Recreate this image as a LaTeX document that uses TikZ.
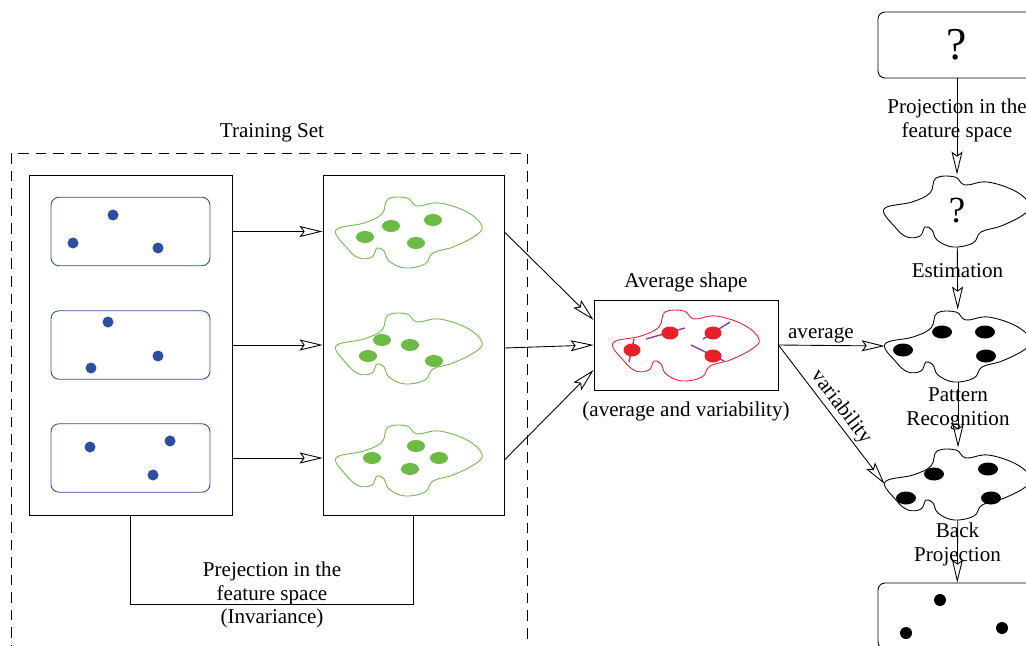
\documentclass[tikz,border=0pt]{standalone}
\usepackage{fontspec}
\setmainfont{Liberation Serif}
\usetikzlibrary{positioning, arrows.meta, calc}

\definecolor{dotblue}{HTML}{2D4FA3}
\definecolor{featgreen}{HTML}{6CBB45}
\definecolor{meanred}{HTML}{E8202A}
\definecolor{varpurple}{HTML}{8E3C97}

\tikzset{
  blob/.pic={
    \draw[#1] plot[smooth cycle, tension=0.65] coordinates {
      (-73,-2) (-45,-9) (-27,-18) (-21,-33) (-2,-34) (8,-26) (30,-29)
      (58,-20) (73,-6) (66,4) (44,15) (24,21) (16,32) (-4,36) (-20,29)
      (-25,19) (-32,16) (-37,25) (-50,26) (-62,16)};
  },
  frame/.style={draw, minimum height=6.8cm, inner sep=0},
  sample/.style={draw=dotblue, rounded corners=0.16cm, minimum width=3.18cm, minimum height=1.37cm},
  blobnode/.style={minimum width=2.92cm, minimum height=1.44cm, inner sep=0},
  qbox/.style={draw, rounded corners=0.14cm, minimum width=3.16cm, minimum height=1.32cm, inner sep=0},
  lbl/.style={align=center, inner sep=0}
}

\begin{document}
\begin{tikzpicture}[x=0.02cm, y=-0.02cm, line width=0.5pt,
    font=\fontsize{12}{13.6}\selectfont,
    >={Stealth[open, length=4.6mm, width=2.2mm, inset=0.8mm]}]
    \clip (0,0) rectangle (1026,645);

    % training set
    \draw[dash pattern=on 6pt off 4pt] (11,153) rectangle (527,700);
    \node (tstitle) at (272,133) {Training Set};

    \node[frame, minimum width=4.06cm] (set) at (130.5,345) {};
    \node[frame, minimum width=3.62cm] (feat) at (413.5,345) {};

    \foreach \n/\y in {s1/231.5, s2/345, s3/458}
        \node[sample] (\n) at (130.5,\y) {};
    \foreach \u/\v in {-17.5/-16.5, -57.5/11.5, 27.5/16.5}
        \fill[dotblue] ($(s1)+(\u,\v)$) circle [radius=5.5];
    \foreach \u/\v in {-22.5/-23, -39.5/23, 27.5/11}
        \fill[dotblue] ($(s2)+(\u,\v)$) circle [radius=5.5];
    \foreach \u/\v in {-40.5/-11, 39.5/-17, 22.5/17}
        \fill[dotblue] ($(s3)+(\u,\v)$) circle [radius=5.5];

    % features
    \foreach \n/\y in {g1/232, g2/348, g3/460} {
        \node[blobnode] (\n) at (409,\y) {};
        \pic at (\n) {blob=featgreen};
    }
    \foreach \u/\v in {-44/5, -18/-6, 24/-12, 7/11}
        \fill[featgreen] ($(g1)+(\u,\v)$) ellipse [x radius=9, y radius=6];
    \foreach \u/\v in {-27/-8, 1/-3, -41/8, 25/13}
        \fill[featgreen] ($(g2)+(\u,\v)$) ellipse [x radius=9, y radius=6];
    \foreach \u/\v in {7/-14, 30/-2, -37/-2, 1/9}
        \fill[featgreen] ($(g3)+(\u,\v)$) ellipse [x radius=9, y radius=6];

    \foreach \n in {s1, s2, s3}
        \draw[->] (\n -| set.east) -- (\n -| feat.west);

    % average shape
    \node[draw, minimum width=3.68cm, minimum height=1.8cm] (avg) at (686,345) {};
    \node (avgtitle) at (686,282) {Average shape};
    \node (avgnote) at (686,411) {(average and variability)};
    \node[blobnode] (mean) at (686,345) {};
    \pic at (mean) {blob=meanred};
    \foreach \a/\b/\c/\d in {-52/-6/-57/17, -40/-6/-1/-17, 17/-6/44/-23, 5/0/38/16}
        \draw[varpurple, line width=0.8pt] ($(mean)+(\a,\b)$) -- ($(mean)+(\c,\d)$);
    \foreach \u/\v in {-54/5, -16/-12, 27/-12, 27/11}
        \fill[meanred] ($(mean)+(\u,\v)$) ellipse [x radius=8.5, y radius=6.5];

    \draw[->] (feat.east |- g1) -- ([yshift=0.5cm]avg.west);
    \draw[->] (feat.east |- g2) -- (avg.west);
    \draw[->] (feat.east |- g3) -- ([yshift=-0.5cm]avg.west);

    \draw (set.south) -- ++(0,89) -| (feat.south);
    \node[lbl] (inv) at (272,595) {Prejection in the\\feature space\\(Invariance)};

    % recognition
    \node[qbox, font=\fontsize{26}{30}\selectfont] (query) at (957,45) {?};
    \node[blobnode, font=\fontsize{21}{25}\selectfont] (est) at (957,211) {?};
    \node[blobnode] (rec) at (958,346) {};
    \node[blobnode] (back) at (958,484) {};
    \node[qbox] (result) at (957,616) {};
    \foreach \n in {est, rec, back}
        \pic at (\n) {blob=black};
    \foreach \u/\v in {-55/4, -16/-14, 27/-14, 28/10}
        \fill ($(rec)+(\u,\v)$) ellipse [x radius=10, y radius=6.5];
    \foreach \u/\v in {-52/14, -24/-10, 30/-15, 33/14}
        \fill ($(back)+(\u,\v)$) ellipse [x radius=10, y radius=6.5];
    \foreach \u/\v in {-17/-16, -51/17, 45/12}
        \fill ($(result)+(\u,\v)$) circle [radius=6];

    \draw[->] (query) -- node[lbl, pos=0.44] {Projection in the\\feature space} (est);
    \draw[->] (est) -- node[lbl, pos=0.37] {Estimation} (rec);
    \draw[->] (rec) -- node[lbl, pos=0.4] {Pattern\\Recognition} (back);
    \draw[->] (back) -- node[lbl, pos=0.38] {Back\\Projection} (result);

    \draw[->] (avg.east) -- node[above, inner sep=1pt, pos=0.4] {average} (rec.west);
    \draw[->] (avg.east) -- node[above, sloped, inner sep=1pt, pos=0.5] {variability} (back.west);
\end{tikzpicture}
\end{document}
